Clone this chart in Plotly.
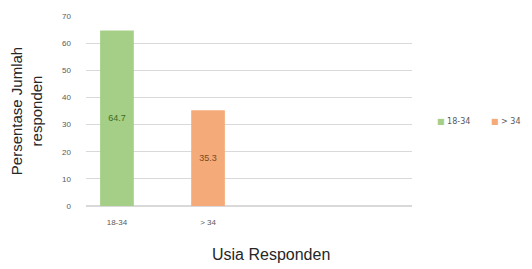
import plotly.graph_objects as go

categories = ["18-34", "> 34"]
values = [64.7, 35.3]
labels = ["64.7", "35.3"]
series_names = ["18-34", "> 34"]
colors = ["#a5cf86", "#f5ab79"]
text_colors = ["#3d6b22", "#7a4a1e"]
y_ticks = [0, 10, 20, 30, 40, 50, 60, 70]
x_title = "Usia Responden"
y_title = "Persentase Jumlah<br>responden"

fig = go.Figure()
for i in range(len(categories)):
    fig.add_trace(go.Bar(
        x=[categories[i]], y=[values[i]], name=series_names[i],
        marker=dict(color=colors[i], line=dict(width=0)),
        width=0.37,
        text=[labels[i]], textposition="inside", insidetextanchor="middle",
        textfont=dict(size=9, color=text_colors[i], family="Liberation Sans"),
        textangle=0,
    ))

# legend drawn as text entries
legend_x = [1.07, 1.235]
for i in range(len(series_names)):
    fig.add_annotation(
        xref="paper", yref="paper", x=legend_x[i], y=0.447,
        xanchor="left", yanchor="middle", showarrow=False,
        text=f"<span style='color:{colors[i]}'>■</span> {series_names[i]}",
        font=dict(size=8, color="#595959", family="DejaVu Sans"),
    )

fig.add_annotation(
    xref="paper", yref="paper", x=0.567, y=-0.255,
    xanchor="center", yanchor="middle", showarrow=False,
    text=x_title, font=dict(size=16, color="#262626", family="Liberation Sans"),
)

fig.update_layout(
    width=524, height=261,
    margin=dict(l=78, r=120, t=8, b=63, autoexpand=False),
    paper_bgcolor="white", plot_bgcolor="white",
    barmode="overlay",
    font=dict(family="Liberation Sans", color="#595959"),
    showlegend=False,
    xaxis=dict(
        type="category", range=[-0.34, 3.24],
        showgrid=False, showline=False, ticks="", ticklabelstandoff=10,
        tickfont=dict(size=8, color="#595959"),
    ),
    yaxis=dict(
        range=[0, 70], tickvals=y_ticks,
        showgrid=True, gridcolor="#d9d9d9", gridwidth=1,
        zeroline=True, zerolinecolor="#d9d9d9",
        showline=False, ticks="", ticklabelstandoff=14,
        tickfont=dict(size=8, color="#595959"),
        title=dict(text=y_title, font=dict(size=15, color="#262626"), standoff=16),
    ),
)

fig.write_html("out.html")
